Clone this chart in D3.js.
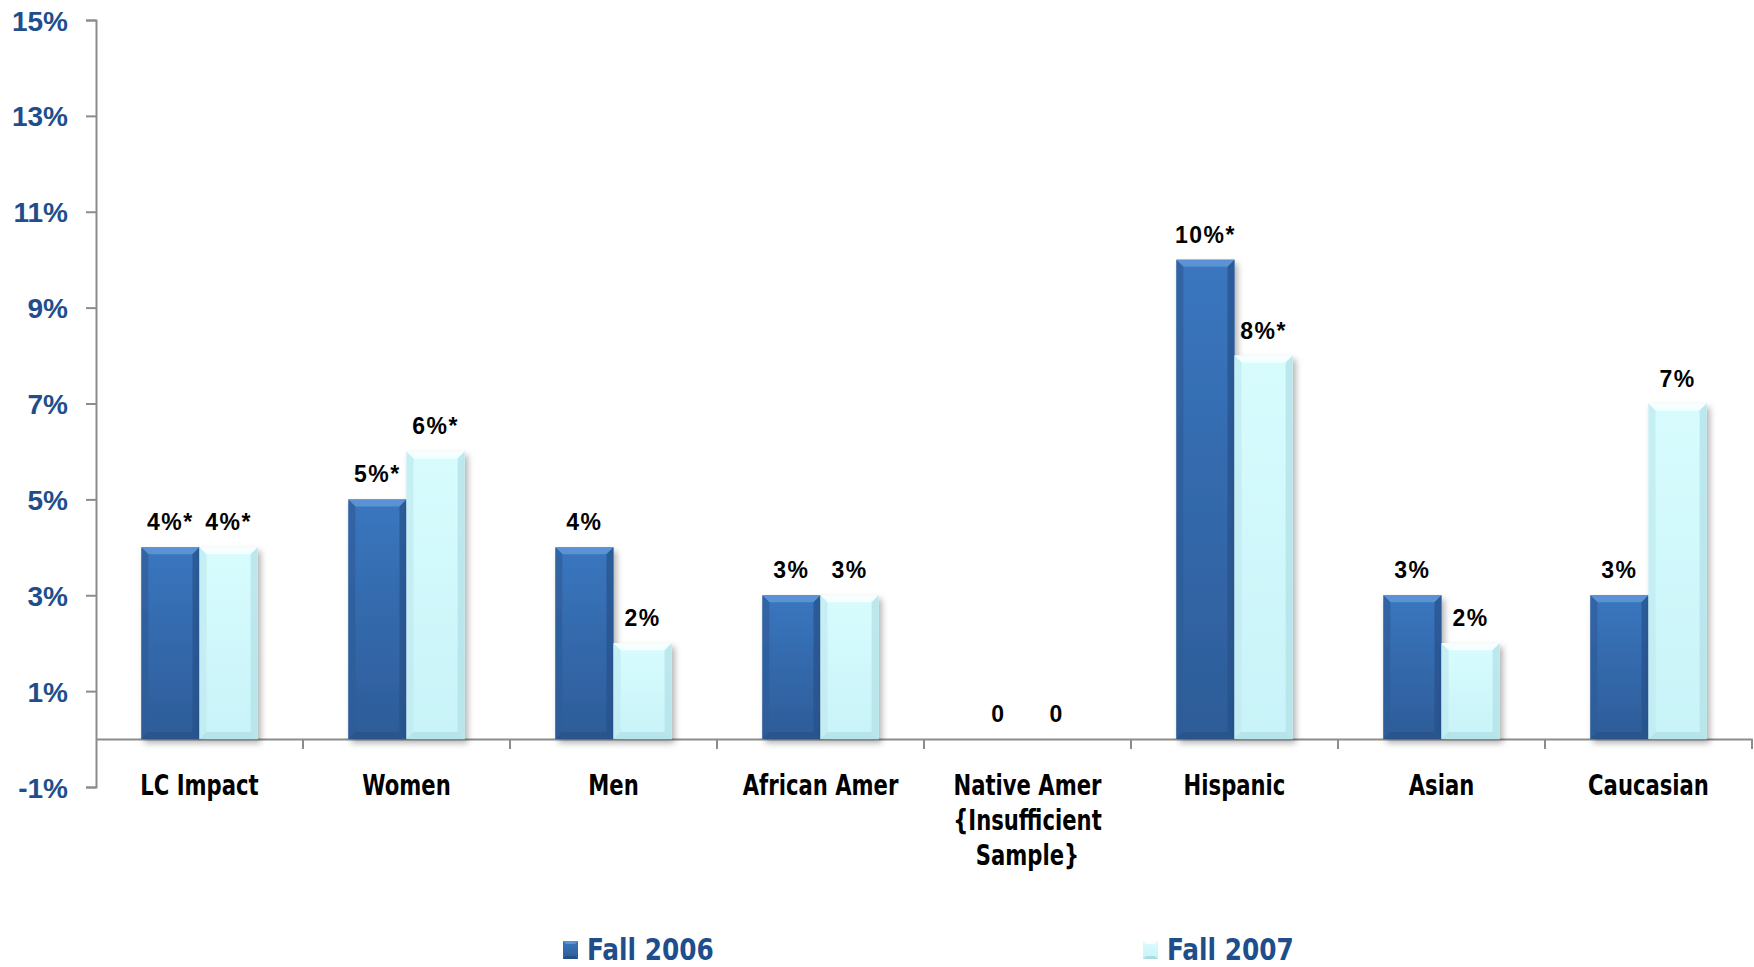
<!DOCTYPE html>
<html><head><meta charset="utf-8">
<script src="https://cdn.jsdelivr.net/npm/d3@7"></script>
<style>
html,body{margin:0;padding:0;background:#fff;}
svg{display:block;}
.cond{font-family:"Liberation Sans Narrow","DejaVu Sans Condensed","Arial Narrow",sans-serif;font-weight:bold;}
</style></head>
<body><svg id="chart" width="1754" height="967"></svg>
<script>
const categories = ["LC Impact","Women","Men","African Amer","Native Amer\n{Insufficient\nSample}","Hispanic","Asian","Caucasian"];
const series = ["Fall 2006","Fall 2007"];
const fall2006 = [4,5,4,3,0,10,3,3];
const fall2007 = [4,6,2,3,0,8,2,7];
const labels2006 = ["4%*","5%*","4%","3%","0","10%*","3%","3%"];
const labels2007 = ["4%*","6%*","2%","3%","0","8%*","2%","7%"];
const yTicks = [-1,1,3,5,7,9,11,13,15];

const svg = d3.select("#chart");
const defs = svg.append("defs");
const f = defs.append("filter").attr("id","shadow").attr("x","-20%").attr("y","-20%").attr("width","150%").attr("height","150%");
f.append("feDropShadow").attr("dx",3).attr("dy",4).attr("stdDeviation",3).attr("flood-color","#000").attr("flood-opacity",0.3);

function grad(id, stops){
  const g = defs.append("linearGradient").attr("id",id).attr("x1",0).attr("y1",0).attr("x2",0).attr("y2",1);
  stops.forEach(s=>g.append("stop").attr("offset",s[0]).attr("stop-color",s[1]));
}
grad("g0",[[0,"#3a76bf"],[1,"#2d5c98"]]);
grad("g1",[[0,"#d8fcfe"],[1,"#c8f3f8"]]);
const bevel = [
  {top:"#5a92d4", side:"#2e5c98", right:"#27518a", bottom:"#264e84"},
  {top:"#f6ffff", side:"#bfeaf0", right:"#b0dfe6", bottom:"#acdbe2"}
];

const x0 = d3.scaleBand().domain(categories).range([96,1752]).paddingInner(0).paddingOuter(0);
const x1 = d3.scaleBand().domain(series).range([0,x0.bandwidth()]).paddingInner(0).paddingOuter(0.78);
const y = d3.scaleLinear().domain([-1,15]).range([787,20]);

// y axis
const yAxis = d3.axisLeft(y).tickValues(yTicks).tickFormat(d=>d+"%").tickSize(10).tickPadding(18);
const ya = svg.append("g").attr("transform","translate(96,0)").call(yAxis);
ya.select(".domain").attr("stroke","#8c8c8c").attr("stroke-width",2);
ya.selectAll(".tick line").attr("stroke","#8c8c8c").attr("stroke-width",2);
ya.selectAll(".tick text").attr("fill","#1f4e8c").attr("font-family","Liberation Sans, Arial, sans-serif")
  .attr("font-weight","bold").attr("font-size",28).attr("dy","0.36em");

// x axis at zero
const xa = svg.append("g").attr("transform",`translate(0,${y(0)})`)
  .call(d3.axisBottom(x0).tickSize(0).tickFormat(""));
xa.select(".domain").attr("stroke","#8c8c8c").attr("stroke-width",2);
xa.selectAll(".tick").remove();
const bounds = categories.map(c=>x0(c)+x0.bandwidth());
svg.append("g").selectAll("line").data(bounds).join("line")
  .attr("x1",d=>d).attr("x2",d=>d).attr("y1",y(0)).attr("y2",y(0)+10)
  .attr("stroke","#8c8c8c").attr("stroke-width",2);

// bars
const data = [];
categories.forEach((c,i)=>{
  data.push({c, s:0, v:fall2006[i], lab:labels2006[i]});
  data.push({c, s:1, v:fall2007[i], lab:labels2007[i]});
});
const bw = x1.bandwidth();
const bars = svg.append("g").selectAll("g.bar").data(data.filter(d=>d.v>0)).join("g")
  .attr("class","bar").attr("filter","url(#shadow)");
bars.each(function(d){
  const g = d3.select(this);
  const xl = x0(d.c)+x1(series[d.s]), xr = xl+bw, yt = y(d.v), yb = y(0);
  const b = 7;
  g.append("rect").attr("x",xl).attr("y",yt).attr("width",bw).attr("height",yb-yt).attr("fill",`url(#g${d.s})`);
  const bc = bevel[d.s];
  g.append("polygon").attr("points",[[xl,yt],[xr,yt],[xr-b,yt+b],[xl+b,yt+b]].join(" ")).attr("fill",bc.top);
  g.append("polygon").attr("points",[[xl,yt],[xl+b,yt+b],[xl+b,yb-b],[xl,yb]].join(" ")).attr("fill",bc.side).attr("opacity",0.7);
  g.append("polygon").attr("points",[[xr,yt],[xr-b,yt+b],[xr-b,yb-b],[xr,yb]].join(" ")).attr("fill",bc.right).attr("opacity",0.7);
  g.append("polygon").attr("points",[[xl,yb],[xl+b,yb-b],[xr-b,yb-b],[xr,yb]].join(" ")).attr("fill",bc.bottom).attr("opacity",0.6);
});

// value labels
svg.append("g").selectAll("text").data(data).join("text")
  .attr("x",d=>x0(d.c)+x1(series[d.s])+bw/2)
  .attr("y",d=>y(d.v)-17)
  .attr("text-anchor","middle")
  .attr("font-family","Liberation Sans, Arial, sans-serif").attr("font-weight","bold")
  .attr("font-size",23).attr("letter-spacing",1.5).attr("fill","#000")
  .text(d=>d.lab);

// category labels
const cl = svg.append("g").selectAll("text").data(categories).join("text")
  .attr("class","cond")
  .attr("transform",d=>`translate(${x0(d)+x0.bandwidth()/2},795) scale(0.84,1)`)
  .attr("text-anchor","middle").attr("font-size",28).attr("fill","#000");
cl.each(function(d){
  const t = d3.select(this);
  d.split("\n").forEach((line,i)=>{
    t.append("tspan").attr("x",0).attr("dy",i===0?0:35).text(line);
  });
});

// legend
const legX = [563, 1143];
const lg = svg.append("g").selectAll("g").data(series).join("g")
  .attr("transform",(d,i)=>`translate(${legX[i]},941)`);
lg.each(function(d,i){
  const g = d3.select(this);
  g.append("rect").attr("width",15).attr("height",18).attr("fill",`url(#g${i})`);
  g.append("polygon").attr("points","0,0 15,0 12,3 3,3").attr("fill",bevel[i].top);
  g.append("polygon").attr("points","0,18 15,18 12,15 3,15").attr("fill",bevel[i].bottom);
});
lg.append("text").attr("class","cond").attr("transform","translate(24,19) scale(0.92,1)")
  .attr("font-size",30).attr("fill","#1f4e8c").text(d=>d);
</script></body></html>
